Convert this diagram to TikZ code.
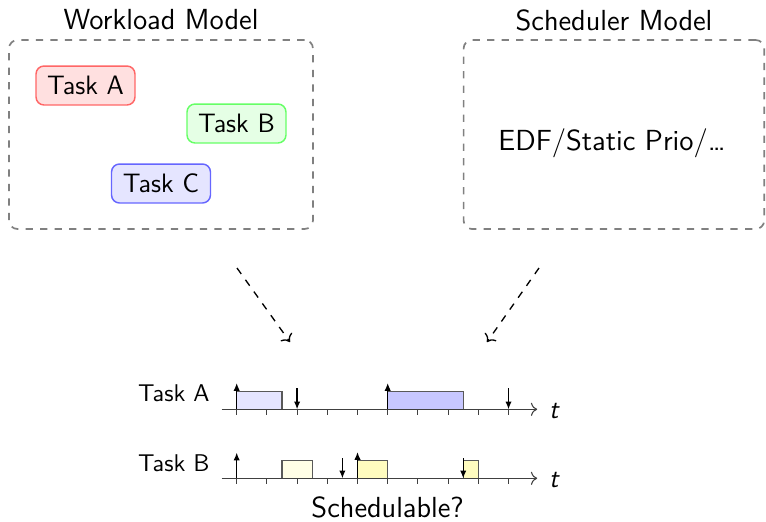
\documentclass[tikz,border=0pt]{standalone}
\usepackage{fontspec}
\usetikzlibrary{arrows.meta}
\begin{document}
\begin{tikzpicture}[x=0.41322pt, y=-0.41322pt, font=\sffamily,
  title/.style={font=\sffamily\large, inner sep=0pt},
  modelbox/.style={draw=black!50, dashed, line width=0.7pt, rounded corners=3.5pt,
    minimum height=78.1pt, inner sep=0pt},
  taskbox/.style={line width=0.6pt, rounded corners=3.3pt, minimum width=40.9pt,
    minimum height=16.1pt, inner sep=0pt, font=\sffamily\fontsize{11}{13}\selectfont},
  flow/.style={->, dashed, line width=0.55pt},
  axis/.style={black!75, line width=0.45pt},
  job/.style={draw=black!65, line width=0.45pt},
  rel/.style={-{Latex[length=3.2pt,width=2.6pt]}, line width=0.5pt},
  dl/.style={-{Latex[length=3.2pt,width=2.6pt]}, line width=0.5pt},
  lbl/.style={inner sep=0pt},
  tlbl/.style={inner sep=0pt, font=\sffamily\itshape\fontsize{11}{13}\selectfont}]
\useasboundingbox (0,0) rectangle (766,521);

% top models
\node[title] (wtitle) at (161,20) {Workload Model};
\node[modelbox, minimum width=125.6pt] (wbox) at (161,134.5) {};
\node[taskbox, draw=red!60, fill=red!12] (ta) at (85.5,85.5) {Task A};
\node[taskbox, draw=green!60, fill=green!10] (tb) at (236.5,123.5) {Task B};
\node[taskbox, draw=blue!60, fill=blue!10] (tc) at (161,183.5) {Task C};

\node[title] (stitle) at (614,20) {Scheduler Model};
\node[modelbox, minimum width=124.2pt] (sbox) at (613.9,134.5) {};
\node[font=\sffamily\large, inner sep=0pt] (edf) at (612,143) {EDF/Static Prio/\dots};

% connectors
\coordinate (wout) at (237,268);
\coordinate (win) at (290,342);
\coordinate (sout) at (539,268);
\coordinate (sin) at (487,342);
\draw[flow] (wout) -- (win);
\draw[flow] (sout) -- (sin);

% timeline task A
\begin{scope}[shift={(97.81pt,-169.13pt)}, x=12.48pt, y=12.48pt]
  \draw[job, fill=blue!10] (0,0) rectangle (1.5,0.6);
  \draw[job, fill=blue!22] (5,0) rectangle (7.5,0.6);
  \draw[axis, ->] (-0.5,0) -- (9.95,0);
  \foreach \i in {0,...,9} \draw[axis] (\i,0) -- (\i,-0.2);
  \draw[rel] (0,0) -- (0,0.87);
  \draw[rel] (5,0) -- (5,0.87);
  \draw[dl] (2,0.7) -- (2,0);
  \draw[dl] (9,0.7) -- (9,0);
  \node[lbl, anchor=east] (la) at (-0.88,0.54) {Task A};
  \node[tlbl] (tla) at (10.5,-0.05) {t};
\end{scope}

% timeline task B
\begin{scope}[shift={(97.81pt,-197.64pt)}, x=12.48pt, y=12.48pt]
  \draw[job, fill=yellow!10] (1.5,0) rectangle (2.5,0.6);
  \draw[job, fill=yellow!25] (4,0) rectangle (5,0.6);
  \draw[job, fill=yellow!25] (7.5,0) rectangle (8,0.6);
  \draw[axis, ->] (-0.5,0) -- (9.95,0);
  \foreach \i in {0,...,9} \draw[axis] (\i,0) -- (\i,-0.2);
  \draw[rel] (0,0) -- (0,0.85);
  \draw[rel] (4,0) -- (4,0.87);
  \draw[dl] (3.5,0.67) -- (3.5,0);
  \draw[dl] (7.5,0.67) -- (7.5,0);
  \node[lbl, anchor=east] (lb) at (-0.88,0.51) {Task B};
  \node[tlbl] (tlb) at (10.5,-0.05) {t};
\end{scope}

\node[font=\sffamily\large, inner sep=0pt, anchor=base] (sched) at (387.7,517.5) {Schedulable?};
\end{tikzpicture}
\end{document}
